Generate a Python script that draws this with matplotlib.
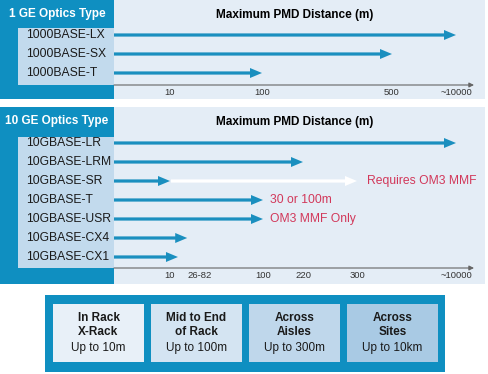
import matplotlib
matplotlib.use('Agg')
import matplotlib.pyplot as plt
import numpy as np
from matplotlib.patches import Rectangle

plt.rcParams['font.family'] = ['Liberation Sans', 'DejaVu Sans']

# data
gig_types = ['1000BASE-LX', '1000BASE-SX', '1000BASE-T']
gig_reach = [10000, 500, 100]
gig_ticks = [10, 100, 500, 10000]
gig_tick_labels = ['10', '100', '500', '~10000']

ten_types = ['10GBASE-LR', '10GBASE-LRM', '10GBASE-SR', '10GBASE-T',
             '10GBASE-USR', '10GBASE-CX4', '10GBASE-CX1']
ten_reach = [10000, 220, 10, 100, 100, 24, 15]
sr_om3_reach = 300
ten_notes = {2: 'Requires OM3 MMF', 3: '30 or 100m', 4: 'OM3 MMF Only'}
ten_ticks = [10, 46, 100, 220, 300, 10000]
ten_tick_labels = ['10', '26-82', '100', '220', '300', '~10000']

zones = [('In Rack\nX-Rack', 'Up to 10m'),
         ('Mid to End\nof Rack', 'Up to 100m'),
         ('Across\nAisles', 'Up to 300m'),
         ('Across\nSites', 'Up to 10km')]

# colours
dark = '#0f8fc1'
arrow_c = '#1a8fbf'
light_bg = '#e4edf6'
label_bg = '#c2daed'
red = '#d2385a'
zone_colors = ['#e8f0f8', '#d4e4f2', '#bfd7eb', '#a9cae4']


def scale(vals, anchor_vals, anchor_px):
    return np.interp(np.log10(vals), np.log10(anchor_vals), anchor_px)


def draw_arrow(xs, xe, y, color):
    ax.arrow(xs, y, xe - xs, 0, width=3.2, head_width=10, head_length=12,
             length_includes_head=True, color=color, lw=0)


fig = plt.figure(figsize=(4.88, 3.74), dpi=100)
ax = fig.add_axes([0, 0, 1, 1])
ax.set_xlim(0, 488)
ax.set_ylim(374, 0)
ax.axis('off')

x0 = 114


def panel(top, bottom, title, types, reach, ticks, tick_labels, tick_px,
          row0, row_step, box_top, axis_y):
    ax.add_patch(Rectangle((0, top), x0, bottom - top, color=dark, lw=0))
    ax.add_patch(Rectangle((x0, top), 485 - x0, bottom - top, color=light_bg, lw=0))
    ax.add_patch(Rectangle((18, box_top), x0 - 18, axis_y - box_top, color=label_bg, lw=0))
    ax.text(57, top + 14, title, color='white', fontsize=8.5, fontweight='bold',
            ha='center', va='center')
    ax.text(295, top + 15, 'Maximum PMD Distance (m)', color='black', fontsize=8.5,
            fontweight='bold', ha='center', va='center')
    ends = scale(reach, ticks, tick_px)
    for i, (name, xe) in enumerate(zip(types, ends)):
        y = row0 + i * row_step
        ax.text(26, y, name, fontsize=8.7, ha='left', va='center', color='#1a1a1a')
        draw_arrow(x0, xe, y, arrow_c)
    ax.annotate('', xy=(474, axis_y), xytext=(x0, axis_y),
                arrowprops=dict(arrowstyle='-|>', color='#666666', lw=0.8,
                                mutation_scale=7, shrinkA=0, shrinkB=0))
    for v, lab in zip(ticks, tick_labels):
        ax.text(scale(v, ticks, tick_px), axis_y + 7, lab, fontsize=6.8,
                ha='center', va='center', color='#333333')
    return ends


# 1 GE panel
panel(0, 99, '1 GE Optics Type', gig_types, gig_reach, gig_ticks,
      gig_tick_labels, [170, 262, 392, 456], 35, 19, 28, 85)

# 10 GE panel
ten_px = [170, 200, 263, 303, 357, 456]
ends = panel(107, 284, '10 GE Optics Type', ten_types, ten_reach, ten_ticks,
             ten_tick_labels, ten_px, 143, 19, 137, 268)

# white continuation of SR arrow
sr_y = 143 + 2 * 19
sr_end = scale(sr_om3_reach, ten_ticks, ten_px)
draw_arrow(ends[2] + 1, sr_end, sr_y, 'white')
for i, note in ten_notes.items():
    xs = sr_end + 10 if i == 2 else ends[i] + 7
    ax.text(xs, 143 + i * 19, note, color=red, fontsize=8.7, ha='left', va='center')

# distance zones
ax.add_patch(Rectangle((45, 295), 400, 77, color=dark, lw=0))
for k, ((head, sub), c) in enumerate(zip(zones, zone_colors)):
    bx = 53 + k * 98
    ax.add_patch(Rectangle((bx, 304), 91, 58, color=c, lw=0))
    ax.text(bx + 45.5, 325, head, fontsize=8.5, fontweight='bold', ha='center',
            va='center', linespacing=1.2, color='#1a1a1a')
    ax.text(bx + 45.5, 348, sub, fontsize=8.5, ha='center', va='center',
            color='#1a1a1a')

fig.savefig('out.png', dpi=100)
